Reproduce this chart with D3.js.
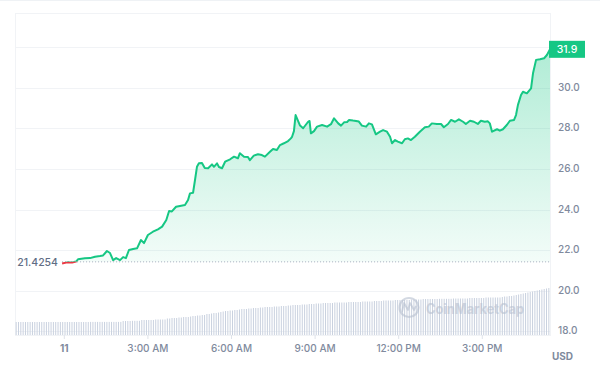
<!DOCTYPE html>
<html><head><meta charset="utf-8">
<script src="https://cdn.jsdelivr.net/npm/d3@7"></script>
<style>html,body{margin:0;padding:0;background:#fff;} svg{display:block;font-family:Inter,"Noto Sans",sans-serif;}</style>
</head><body><svg id="c" width="600" height="380"></svg>
<script>
// ---- data ----
// hours since 00:00 on the 11th
const priceHours = [-0.08,0.10,0.28,0.42,0.49,0.74,0.92,1.10,1.28,1.39,1.53,1.64,1.75,1.86,2.00,2.11,2.21,2.32,2.47,2.61,2.75,2.86,3.00,3.18,3.36,3.51,3.66,3.76,3.86,4.01,4.15,4.33,4.44,4.51,4.62,4.69,4.76,4.83,4.94,5.04,5.16,5.30,5.37,5.48,5.55,5.66,5.77,5.95,6.09,6.23,6.30,6.45,6.59,6.66,6.80,6.95,7.09,7.20,7.38,7.49,7.63,7.74,7.88,8.03,8.13,8.17,8.24,8.30,8.46,8.57,8.75,8.80,8.85,8.96,9.07,9.25,9.43,9.57,9.68,9.83,9.93,10.04,10.15,10.22,10.36,10.47,10.57,10.68,10.83,10.93,11.04,11.18,11.33,11.44,11.58,11.69,11.76,11.87,11.97,12.12,12.22,12.33,12.44,12.58,12.76,12.94,13.08,13.19,13.37,13.52,13.62,13.77,13.88,14.02,14.16,14.31,14.41,14.56,14.70,14.84,14.95,15.09,15.20,15.27,15.35,15.53,15.63,15.74,15.88,15.99,16.14,16.21,16.28,16.39,16.46,16.60,16.75,16.82,16.93,17.07,17.22,17.32,17.43];
const priceValues = [21.34,21.40,21.39,21.44,21.55,21.60,21.61,21.68,21.71,21.74,21.96,21.86,21.51,21.61,21.51,21.66,21.61,22.01,22.06,22.09,22.50,22.35,22.75,22.91,23.03,23.16,23.49,23.93,23.91,24.14,24.18,24.23,24.47,24.80,24.83,25.46,26.11,26.28,26.30,26.05,26.04,26.23,26.11,26.28,26.10,26.04,26.36,26.48,26.61,26.53,26.78,26.61,26.59,26.44,26.66,26.73,26.69,26.61,26.85,26.99,26.94,27.18,27.27,27.38,27.51,27.58,27.87,28.66,28.14,28.01,28.33,28.37,27.76,27.87,28.09,28.17,28.09,28.21,28.50,28.25,28.14,28.30,28.32,28.42,28.39,28.37,28.34,28.14,28.09,28.25,28.20,27.71,27.84,27.92,27.84,27.59,27.27,27.43,27.35,27.27,27.47,27.51,27.43,27.59,27.84,28.06,28.09,28.25,28.22,28.22,28.06,28.22,28.42,28.33,28.45,28.33,28.22,28.38,28.33,28.22,28.38,28.33,28.35,28.25,27.84,27.96,27.89,27.96,28.17,28.38,28.42,28.66,29.16,29.65,29.81,29.73,29.98,30.72,31.38,31.41,31.46,31.62,31.90];
const openPrice = 21.4254;
const lastPrice = 31.9;
const volumeValues = [
1.30,1.30,1.30,1.30,1.30,1.30,1.30,1.30,1.30,1.30,
1.30,1.30,1.30,1.30,1.30,1.30,1.30,1.30,1.30,1.30,
1.30,1.30,1.30,1.30,1.30,1.30,1.30,1.30,1.30,1.30,
1.30,1.30,1.31,1.31,1.31,1.31,1.31,1.31,1.31,1.31,
1.31,1.31,1.31,1.31,1.31,1.31,
1.40,1.40,1.40,1.40,1.42,1.42,1.42,1.42,
1.50,1.50,1.50,1.50,1.50,1.50,1.55,1.55,1.55,1.55,1.55,
1.65,1.65,1.70,1.70,1.70,1.75,1.75,1.80,1.80,1.80,1.85,
1.90,1.90,1.95,1.95,2.00,2.00,
2.10,2.10,2.15,2.20,2.20,2.25,2.30,
2.35,2.40,2.40,2.45,2.45,2.50,2.50,2.55,
2.60,2.60,2.60,2.65,2.65,2.70,2.70,2.70,2.75,
2.75,2.80,2.80,2.80,2.80,2.85,2.85,2.85,2.90,2.90,2.90,2.95,2.95,
3.00,3.00,3.00,3.00,3.05,3.05,3.05,3.10,3.10,3.10,3.15,3.15,3.15,
3.20,3.20,3.20,3.20,3.20,3.25,3.25,3.25,3.25,3.25,3.25,3.30,3.30,
3.30,3.30,3.30,3.30,3.35,3.35,3.35,3.35,3.35,3.40,3.40,3.40,3.40,
3.45,3.45,3.45,3.45,3.45,3.50,3.50,3.50,3.50,3.50,3.50,3.50,3.55,3.55,3.55,3.55,3.55,
3.60,3.60,3.60,3.60,3.60,3.60,3.60,3.62,3.62,3.62,3.62,3.62,3.62,
3.65,3.65,3.65,3.65,3.65,3.65,3.65,3.70,3.70,3.70,3.70,3.70,3.70,3.70,3.75,3.75,3.75,3.75,3.75,3.75,3.75,
3.80,3.85,3.85,3.90,3.90,3.95,4.00,
4.05,4.10,4.15,4.20,4.25,4.30,
4.35,4.40,4.45,4.50,4.55,4.60,4.65,4.70];
const xDomainHours = [-1.77, 17.43];
const xTickHours = [0,3,6,9,12,15];
const xTickLabels = ["11","3:00 AM","6:00 AM","9:00 AM","12:00 PM","3:00 PM"];
const yTickValues = [18,20,22,24,26,28,30];
const yGridValues = [18,20,22,24,26,28,30,32];
const currencyLabel = "USD";
const watermarkText = "CoinMarketCap";

// ---- layout ----
const L = 15, R = 550, T = 13, B = 335;
const GREEN = "#16c784", RED = "#ea3943", LABEL = "#808a9d", GRID = "#f1f3f6";
const svg = d3.select("#c");
const x = d3.scaleLinear().domain(xDomainHours).range([L, R]);
const y = d3.scaleLinear().domain([17.82, 33.69]).range([B, T]);
const vy = d3.scaleLinear().domain([0, d3.max(volumeValues)]).range([B, 288]);
const band = d3.scaleBand().domain(d3.range(volumeValues.length)).range([L, R]);
const data = priceHours.map((h,i)=>({h, p: priceValues[i]}));
const baseY = y(openPrice);

const defs = svg.append("defs");
const grad = defs.append("linearGradient").attr("id","g").attr("gradientUnits","userSpaceOnUse")
  .attr("x1",0).attr("x2",0).attr("y1",y(32)).attr("y2",300);
grad.append("stop").attr("offset",0).attr("stop-color",GREEN).attr("stop-opacity",0.34);
grad.append("stop").attr("offset",1).attr("stop-color",GREEN).attr("stop-opacity",0.0);
defs.append("clipPath").attr("id","above").append("rect").attr("x",0).attr("y",0).attr("width",600).attr("height",baseY);
defs.append("clipPath").attr("id","below").append("rect").attr("x",0).attr("y",baseY).attr("width",600).attr("height",380-baseY);

// page separator
svg.append("line").attr("x1",0).attr("x2",600).attr("y1",0.5).attr("y2",0.5).attr("stroke","#eff2f5");

// grid
svg.append("g").selectAll("line").data(yGridValues).join("line")
  .attr("x1",L).attr("x2",R).attr("y1",d=>Math.round(y(d))+0.5).attr("y2",d=>Math.round(y(d))+0.5)
  .attr("stroke",GRID);
svg.append("rect").attr("x",L+0.5).attr("y",T+0.5).attr("width",R-L).attr("height",B-T)
  .attr("fill","none").attr("stroke",GRID);

// volume bars
svg.append("g").selectAll("rect").data(volumeValues).join("rect")
  .attr("x",(d,i)=>band(i)+band.bandwidth()/2-0.5).attr("width",1)
  .attr("y",d=>vy(d)).attr("height",d=>B-vy(d)).attr("fill","#c9d1df");

// area
const area = d3.area().x(d=>x(d.h)).y0(B).y1(d=>y(d.p));
svg.append("path").datum(data).attr("d",area).attr("fill","url(#g)").attr("clip-path","url(#above)");

// watermark
const wm = svg.append("g").attr("opacity",0.6);
wm.append("circle").attr("cx",409).attr("cy",307.5).attr("r",9.5).attr("fill","none").attr("stroke","#b7c0d0").attr("stroke-width",2.2);
wm.append("path").attr("d","M402,312 L404,303 L408,310 L410,303 L414,310 L416,306").attr("fill","none").attr("stroke","#b7c0d0").attr("stroke-width",1.8).attr("stroke-linejoin","round");
wm.append("text").attr("x",426).attr("y",314).attr("font-size",14).attr("font-weight",700)
  .attr("fill","#b7c0d0").attr("textLength",98).attr("lengthAdjust","spacingAndGlyphs").text(watermarkText);

// baseline
svg.append("line").attr("x1",x(priceHours[0])).attr("x2",R).attr("y1",baseY).attr("y2",baseY)
  .attr("stroke","#a4acbd").attr("stroke-width",1).attr("stroke-dasharray","1 2");
svg.append("text").attr("x",58).attr("y",baseY).attr("dy","0.35em").attr("text-anchor","end")
  .attr("font-size",10.5).attr("font-weight",500).attr("fill","#616e85").text(openPrice.toString());

// price line
const line = d3.line().x(d=>x(d.h)).y(d=>y(d.p));
svg.append("path").datum(data).attr("d",line).attr("fill","none").attr("stroke",GREEN).attr("stroke-width",2)
  .attr("stroke-linejoin","round").attr("clip-path","url(#above)");
svg.append("path").datum(data).attr("d",line).attr("fill","none").attr("stroke",RED).attr("stroke-width",2)
  .attr("stroke-linejoin","round").attr("clip-path","url(#below)");

// y axis labels
svg.append("g").selectAll("text").data(yTickValues).join("text")
  .attr("x",558).attr("y",d=>y(d)).attr("dy","0.3em").attr("font-size",10).attr("font-weight",500)
  .attr("fill",LABEL).text(d=>d3.format(".1f")(d));

// last price badge
const ly = y(lastPrice);
svg.append("rect").attr("x",549).attr("y",ly-8.5).attr("width",36).attr("height",17).attr("fill",GREEN);
svg.append("text").attr("x",567).attr("y",ly).attr("dy","0.35em").attr("text-anchor","middle")
  .attr("font-size",10.5).attr("font-weight",500).attr("fill","#fff").text(d3.format(".1f")(lastPrice));

// x axis
const xa = svg.append("g");
xa.selectAll("line").data(xTickHours).join("line")
  .attr("x1",d=>x(d)).attr("x2",d=>x(d)).attr("y1",B).attr("y2",B+4).attr("stroke","#dfe3ea");
xa.selectAll("text").data(xTickHours).join("text")
  .attr("x",d=>x(d)).attr("y",348).attr("dy","0.35em").attr("text-anchor","middle")
  .attr("font-size",10).attr("font-weight",(d,i)=>i===0?700:500).attr("fill",LABEL)
  .text((d,i)=>xTickLabels[i]);
svg.append("text").attr("x",562.5).attr("y",356).attr("dy","0.35em").attr("text-anchor","middle")
  .attr("font-size",10).attr("font-weight",700).attr("fill",LABEL).text(currencyLabel);
</script></body></html>
